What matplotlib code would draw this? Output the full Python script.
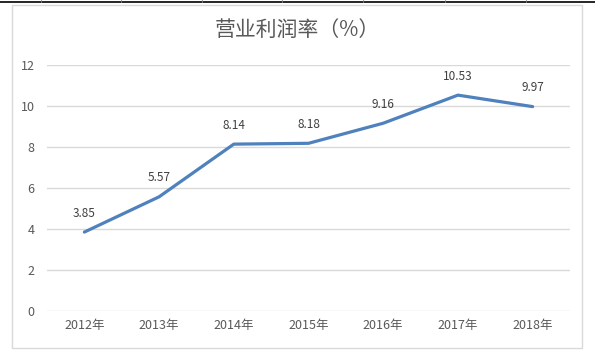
import matplotlib.pyplot as plt
from matplotlib.patches import Rectangle
from matplotlib.lines import Line2D

plt.rcParams['font.family'] = ['Noto Sans CJK SC', 'DejaVu Sans']

years = ['2012年', '2013年', '2014年', '2015年', '2016年', '2017年', '2018年']
margin = [3.85, 5.57, 8.14, 8.18, 9.16, 10.53, 9.97]
yticks = [0, 2, 4, 6, 8, 10, 12]

W, H = 595, 354
fig = plt.figure(figsize=(W / 100, H / 100), dpi=100)

# outer chart frame and the table line above it
fig.patches.append(Rectangle((12 / W, 1 - 348 / H), 570 / W, 343 / H,
                             transform=fig.transFigure, fill=False,
                             edgecolor='#d9d9d9', linewidth=1))
fig.lines.append(Line2D([0, 1], [1 - 1.5 / H, 1 - 1.5 / H],
                        transform=fig.transFigure, color='black', linewidth=1.2))
for px in [41, 121, 202, 282, 363, 445, 526]:
    fig.lines.append(Line2D([px / W, px / W], [1, 1 - 1.5 / H],
                            transform=fig.transFigure, color='#888888', linewidth=0.6))

ax = fig.add_axes([47 / W, 1 - 311 / H, 523 / W, 246 / H])
x = list(range(len(years)))
ax.plot(x, margin, color='#4f81bd', linewidth=2.3, solid_capstyle='round',
        solid_joinstyle='round', zorder=3)

for xi, v in zip(x, margin):
    ax.annotate(f'{v:.2f}', (xi, v), xytext=(0, 9), textcoords='offset points',
                ha='center', va='bottom', fontsize=8.5, color='#404040')

ax.set_xlim(-0.5, len(years) - 0.5)
ax.set_ylim(0, 12)
ax.set_yticks(yticks)
ax.set_xticks(x)
ax.set_xticklabels(years)
ax.grid(axis='y', color='#d9d9d9', linewidth=1)
ax.set_axisbelow(True)
for s in ax.spines.values():
    s.set_visible(False)
ax.tick_params(axis='both', length=0, labelsize=9, labelcolor='#595959')
ax.tick_params(axis='y', pad=9)
ax.tick_params(axis='x', pad=6)

fig.text(0.5, 1 - 30 / H, '营业利润率（%）', ha='center', va='center',
         fontsize=15, color='#595959')

fig.savefig('out.png', dpi=100)
